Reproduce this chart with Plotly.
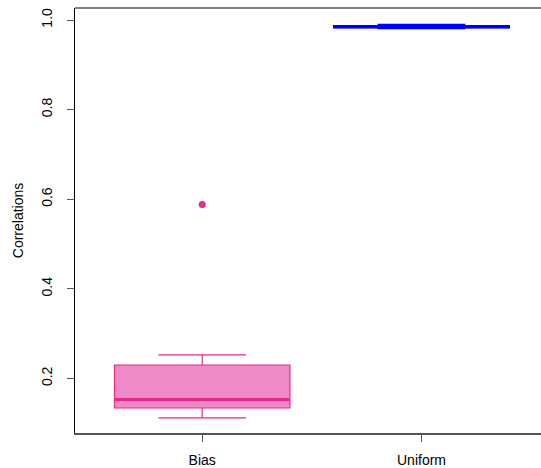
import plotly.graph_objects as go

# Correlation summaries per method
groups = ["Bias", "Uniform"]
positions = [1, 2]
lower_whisker = [0.112, 0.981]
q1 = [0.134, 0.983]
median = [0.153, 0.985]
q3 = [0.230, 0.987]
upper_whisker = [0.2525, 0.990]
bias_outliers = [0.588]

line_colors = ["#E7298A", "#0000FF"]
fill_colors = ["#EE8BC7", "rgba(0,0,255,0.5)"]
line_widths = [1.2, 1.6]
box_width = 0.8

fig = go.Figure()

for i, name in enumerate(groups):
    fig.add_trace(go.Box(
        x=[positions[i]], q1=[q1[i]], median=[median[i]], q3=[q3[i]],
        lowerfence=[lower_whisker[i]], upperfence=[upper_whisker[i]],
        name=name, boxpoints=False, width=box_width, whiskerwidth=0.5,
        fillcolor=fill_colors[i],
        line=dict(color=line_colors[i], width=line_widths[i]),
        showlegend=False, hoverinfo="skip",
    ))
    # thick median bar, as in base R boxplots
    fig.add_trace(go.Scatter(
        x=[positions[i] - box_width / 2, positions[i] + box_width / 2],
        y=[median[i], median[i]], mode="lines",
        line=dict(color=line_colors[i], width=3),
        showlegend=False, hoverinfo="skip",
    ))

fig.add_trace(go.Scatter(
    x=[positions[0]] * len(bias_outliers), y=bias_outliers, mode="markers",
    marker=dict(color=line_colors[0], size=7),
    showlegend=False, hoverinfo="skip",
))

font = dict(family="Liberation Sans, Arial, Helvetica, sans-serif", size=14, color="#000000")

fig.update_layout(
    width=541, height=468,
    margin=dict(l=75, r=0, t=8, b=35),
    paper_bgcolor="white", plot_bgcolor="white",
    font=font,
    xaxis=dict(
        range=[0.42, 2.545], tickvals=positions, ticktext=groups,
        tickfont=font,
        showgrid=False, zeroline=False,
        showline=True, linecolor="#555555", linewidth=1.5,
        ticks="outside", ticklen=7, tickcolor="#555555", tickwidth=1,
        ticklabelstandoff=6,
    ),
    yaxis=dict(
        range=[0.0782, 1.0268],
        tickvals=[0.2, 0.4, 0.6, 0.8, 1.0],
        ticktext=["0.2", "0.4", "0.6", "0.8", "1.0"],
        tickangle=-90, tickfont=font,
        showgrid=False, zeroline=False,
        showline=True, linecolor="#000000", linewidth=1,
        ticks="outside", ticklen=7, tickcolor="#555555", tickwidth=1,
        ticklabelstandoff=9,
        title=dict(text="Correlations", font=font, standoff=12),
    ),
    shapes=[dict(type="line", xref="paper", yref="paper",
                 x0=0, x1=1, y0=1, y1=1,
                 line=dict(color="#000000", width=1))],
)

fig.write_html("out.html")
